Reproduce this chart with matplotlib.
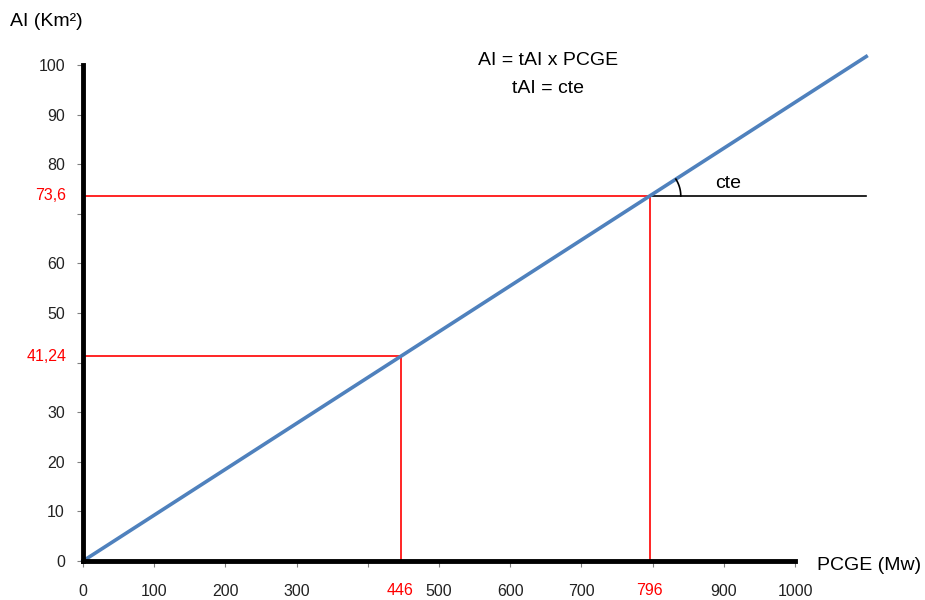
import matplotlib
matplotlib.use("Agg")
import matplotlib.pyplot as plt
import numpy as np

plt.rcParams['font.family'] = ['Liberation Sans', 'DejaVu Sans']

# data
pcge_end = 1100
ratio_pcge = 796
ratio_ai = 73.6
marks_x = [446, 796]
marks_y = [41.24, 73.6]
mark_x_labels = ['446', '796']
mark_y_labels = ['41,24', '73,6']
xticks = [0, 100, 200, 300, 400, 500, 600, 700, 800, 900, 1000]
xtick_labels = ['0', '100', '200', '300', '', '500', '600', '700', '', '900', '1000']
yticks = [0, 10, 20, 30, 40, 50, 60, 70, 80, 90, 100]
ytick_labels = ['0', '10', '20', '30', '', '50', '60', '', '80', '90', '100']

tai = ratio_ai / ratio_pcge
tick_fs = 11.5
text_fs = 14

fig = plt.figure(figsize=(9.25, 6.0), dpi=100)
ax = fig.add_axes([0.0897, 0.065, 0.7698, 0.8267])
ax.set_xlim(0, 1000)
ax.set_ylim(0, 100)

# red guide lines
for mx, my in zip(marks_x, marks_y):
    ax.plot([0, mx], [my, my], color='#ff0000', lw=1.2, zorder=2)
    ax.plot([mx, mx], [0, my], color='#ff0000', lw=1.2, zorder=2)

# horizontal reference line at the upper point
ax.plot([ratio_pcge, pcge_end], [ratio_ai, ratio_ai], color='black', lw=1.2,
        clip_on=False, zorder=2)

# main line
xs = np.array([0, pcge_end])
ax.plot(xs, tai * xs, color='#4f81bd', lw=2.6, clip_on=False, zorder=3)

ax.text(888, 76.2, 'cte', fontsize=text_fs, ha='left', va='center')
ax.text(653, 100.9, 'AI = tAI x PCGE', fontsize=text_fs, ha='center', va='center')
ax.text(653, 95.3, 'tAI = cte', fontsize=text_fs, ha='center', va='center')

for s in ['top', 'right']:
    ax.spines[s].set_visible(False)
for s in ['left', 'bottom']:
    ax.spines[s].set_linewidth(3.5)
    ax.spines[s].set_color('black')
    ax.spines[s].set_zorder(4)

ax.set_xticks(xticks)
ax.set_xticklabels(xtick_labels)
ax.set_yticks(yticks)
ax.set_yticklabels(ytick_labels)
ax.tick_params(axis='x', length=4, color='#808080', pad=12.5, labelsize=tick_fs, labelcolor='#222222')
ax.tick_params(axis='y', length=4, color='#808080', pad=9, labelsize=tick_fs, labelcolor='#222222')

# red value labels on the axes
for mx, lab in zip(marks_x, mark_x_labels):
    ax.annotate(lab, xy=(mx, 0), xycoords='data', xytext=(0, -21.5),
                textcoords='offset points', ha='center', va='center',
                color='#ff0000', fontsize=tick_fs, annotation_clip=False)
for my, lab in zip(marks_y, mark_y_labels):
    ax.annotate(lab, xy=(0, my), xycoords='data', xytext=(-12, 0),
                textcoords='offset points', ha='right', va='center',
                color='#ff0000', fontsize=tick_fs, annotation_clip=False)

# small angle arc, computed in pixel space so it stays round
fig.canvas.draw()
p0 = ax.transData.transform((ratio_pcge, ratio_ai))
p1 = ax.transData.transform((ratio_pcge + 100, ratio_ai + tai * 100))
ang = np.arctan2(p1[1] - p0[1], p1[0] - p0[0])
r_px = 31
t = np.linspace(0, ang, 30)
arc_px = np.column_stack([p0[0] + r_px * np.cos(t), p0[1] + r_px * np.sin(t)])
arc_data = ax.transData.inverted().transform(arc_px)
ax.plot(arc_data[:, 0], arc_data[:, 1], color='black', lw=1.2, clip_on=False, zorder=4)

fig.text(10 / 925, 1 - 22 / 600, 'AI (Km²)', fontsize=text_fs, ha='left', va='center')
fig.text(817 / 925, 1 - 566 / 600, 'PCGE (Mw)', fontsize=text_fs, ha='left', va='center')

fig.savefig('out.png', dpi=100, facecolor='white')
